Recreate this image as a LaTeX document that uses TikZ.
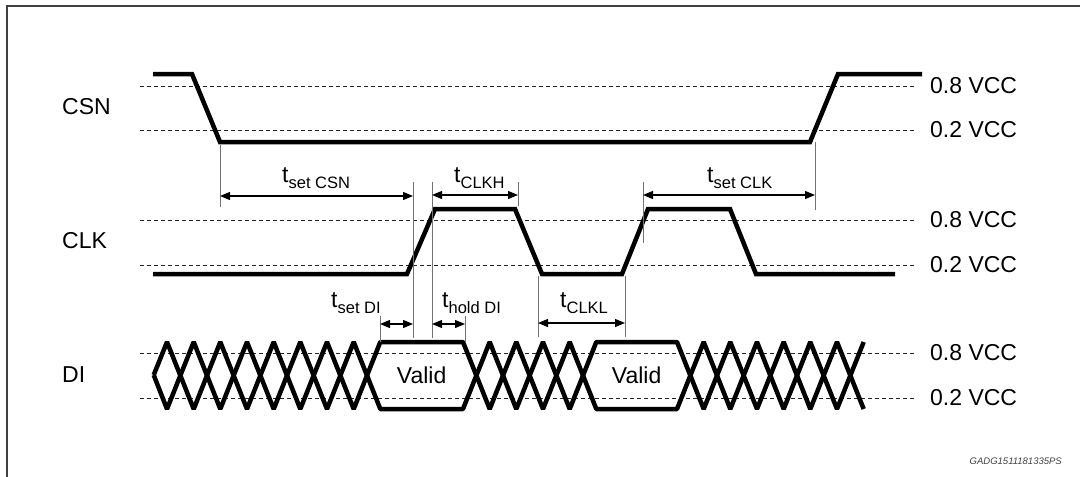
\documentclass[tikz,border=0pt]{standalone}
\usepackage{fontspec}
\setmainfont{Liberation Sans}
\usetikzlibrary{arrows.meta}
\newcommand\tlab[1]{t\raisebox{-6pt}{\fontsize{16.5}{16.5}\selectfont #1}}
\begin{document}
\begin{tikzpicture}[x=1pt,y=-1pt,
  sig/.style={line width=4.5pt,black},
  disig/.style={line width=4.5pt,black,line join=bevel},
  lvl/.style={line width=0.9pt,black!85,dash pattern=on 4pt off 3pt},
  ext/.style={line width=1pt,black!55},
  dim/.style={line width=1.2pt,{Triangle[length=10pt,width=8pt]}-{Triangle[length=10pt,width=8pt]}},
  txt/.style={font=\fontsize{23}{23}\selectfont,inner sep=0pt},
  foot/.style={font=\fontsize{9.5}{9.5}\selectfont\itshape,inner sep=0pt,text=black!75}]
\useasboundingbox (0,0) rectangle (1080,477);
\clip (0,0) rectangle (1080,477);
% frame
\draw[line width=2pt,black!75] (1090,5.5) -- (6.5,5.5) -- (6.5,490);
% level lines
\foreach \yy/\nm/\lab in {86/c8/0.8 VCC,130/c2/0.2 VCC,220/k8/0.8 VCC,265/k2/0.2 VCC,353/d8/0.8 VCC,398/d2/0.2 VCC}{
  \draw[lvl] (140,\yy) -- (915,\yy);
  \node[txt,anchor=west] (\nm) at (930,\yy) {\lab};
}
% signal names
\node[txt,anchor=west] (csn) at (62,107) {CSN};
\node[txt,anchor=west] (clk) at (62,241) {CLK};
\node[txt,anchor=west] (di) at (62,375) {DI};
% CSN
\draw[sig] (153,74) -- (192,74) -- (220,142) -- (810,142) -- (838,74) -- (922,74);
% CLK
\draw[sig] (153,274) -- (407,274) -- (435,209) -- (515,209) -- (542,274) -- (622,274) -- (648,209) -- (730,209) -- (756,274) -- (895,274);
% DI
\draw[disig] (153.7,375) -- (167,342) -- (193.7,409) -- (220.3,342) -- (247,409) -- (273.7,342) -- (300.3,409) -- (327,342) -- (353.7,409) -- (380.3,342) -- (463,342) -- (489.7,409) -- (516.3,342) -- (543,409) -- (569.7,342) -- (596.3,409) -- (677,409) -- (703.7,342) -- (730.3,409) -- (757,342) -- (783.7,409) -- (810.3,342) -- (837,409) -- (863.7,342);
\draw[disig] (153.7,375) -- (167,409) -- (193.7,342) -- (220.3,409) -- (247,342) -- (273.7,409) -- (300.3,342) -- (327,409) -- (353.7,342) -- (380.3,409) -- (463,409) -- (489.7,342) -- (516.3,409) -- (543,342) -- (569.7,409) -- (596.3,342) -- (677,342) -- (703.7,409) -- (730.3,342) -- (757,409) -- (783.7,342) -- (810.3,409) -- (837,342) -- (863.7,409);
\node[txt] (v1) at (421.6,375) {Valid};
\node[txt] (v2) at (636.6,375) {Valid};
% extension lines
\draw[ext] (220,145) -- (220,207);
\draw[ext] (413,182) -- (413,338);
\draw[ext] (432,182) -- (432,338);
\draw[ext] (518,182) -- (518,206);
\draw[ext] (643,182) -- (643,243);
\draw[ext] (815,142) -- (815,210);
\draw[ext] (380,316) -- (380,342);
\draw[ext] (465,316) -- (465,342);
\draw[ext] (538,276) -- (538,337);
\draw[ext] (625,276) -- (625,337);
% dimension arrows
\coordinate (a1) at (220,196); \coordinate (b1) at (413,196);
\coordinate (a2) at (432,195); \coordinate (b2) at (518,195);
\coordinate (a3) at (643,195); \coordinate (b3) at (815,195);
\coordinate (a4) at (380,324); \coordinate (b4) at (413,324);
\coordinate (a5) at (432,324); \coordinate (b5) at (465,324);
\coordinate (a6) at (538,323); \coordinate (b6) at (625,323);
\draw[dim] (a1) -- (b1);
\draw[dim] (a2) -- (b2);
\draw[dim] (a3) -- (b3);
\draw[dim] (a4) -- (b4);
\draw[dim] (a5) -- (b5);
\draw[dim] (a6) -- (b6);
% timing labels
\node[txt,anchor=base west] (l1) at (282,182) {\tlab{set CSN}};
\node[txt,anchor=base west] (l2) at (454,182) {\tlab{CLKH}};
\node[txt,anchor=base west] (l3) at (707,182) {\tlab{set CLK}};
\node[txt,anchor=base west] (l4) at (331,307) {\tlab{set DI}};
\node[txt,anchor=base west] (l5) at (442,307) {\tlab{hold DI}};
\node[txt,anchor=base west] (l6) at (560,307) {\tlab{CLKL}};
\node[foot,anchor=base east] (fn) at (1062,464) {GADG1511181335PS};
\end{tikzpicture}
\end{document}
